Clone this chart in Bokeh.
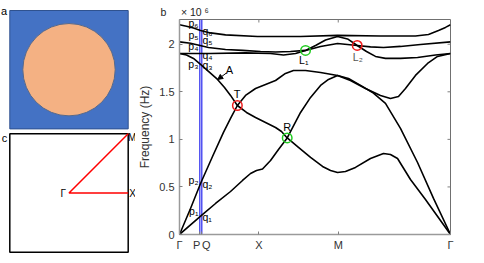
import math
from bokeh.plotting import figure
from bokeh.models import Range1d, FixedTicker, Label, Arrow, NormalHead, Title
from bokeh.layouts import row
from bokeh.embed import file_html
from bokeh.resources import INLINE

FONT = "Liberation Sans"
NB = "\u00a0"

# ---------------- data ----------------
# path coordinate: Γ=0, X=1, M=2, Γ=2+√2 ; frequency in units of 1e6 Hz
K_END = 2 + math.sqrt(2)
k_P = 0.256
k_Q = 0.281
x_ticks = [0, k_P, k_Q, 1, 2, K_END]
x_tick_labels = ["Γ", "P" + NB * 2, NB * 3 + "Q", "X", "M", "Γ"]
y_ticks = [0, 0.5, 1, 1.5, 2]
y_tick_labels = ["0", "0.5", "1", "1.5", "2"]
Y_MAX = 2.26

b1_k = [0, 0.277, 0.454, 0.643, 0.794, 0.895, 0.970, 1.046, 1.147, 1.247, 1.357, 1.525, 1.651, 1.777,
        1.877, 1.991, 2.129, 2.281, 2.432, 2.595, 2.784, 2.999, 3.200, K_END]
b1_f = [0, 0.200, 0.326, 0.452, 0.568, 0.641, 0.673, 0.689, 0.778, 0.894, 1.015, 1.283, 1.441, 1.567,
        1.630, 1.672, 1.640, 1.567, 1.493, 1.378, 1.115, 0.757, 0.379, 0]

b2_k = [0, 0.139, 0.265, 0.416, 0.554, 0.643, 0.729, 0.832, 0.958, 1.084, 1.210, 1.335, 1.436, 1.588,
        1.777, 1.991, 2.154, 2.343, 2.532, 2.658, 2.759, 2.847, 2.973, 3.125, 3.251, K_END]
b2_f = [0, 0.273, 0.536, 0.820, 1.073, 1.220, 1.356, 1.462, 1.535, 1.577, 1.619, 1.693, 1.724, 1.724,
        1.703, 1.672, 1.619, 1.535, 1.462, 1.430, 1.451, 1.535, 1.672, 1.798, 1.872, 1.903]

b3_k = [0, 0.088, 0.176, 0.265, 0.365, 0.479, 0.567, 0.643, 0.729, 0.844, 0.958, 1.084, 1.210, 1.285,
        1.357, 1.499, 1.651, 1.802, 1.903, 1.991, 2.091, 2.217, 2.406, 2.570, 2.658, 2.747, 2.910,
        3.099, K_END]
b3_f = [1.903, 1.887, 1.851, 1.788, 1.714, 1.630, 1.546, 1.462, 1.356, 1.283, 1.230, 1.178, 1.125, 1.083,
        1.015, 0.915, 0.810, 0.715, 0.673, 0.652, 0.662, 0.705, 0.799, 0.852, 0.841, 0.799, 0.578,
        0.368, 0]

b4_k = [0, 0.391, 0.832, 1.147, 1.310, 1.462, 1.588, 1.714, 1.840, 1.991, 2.117, 2.239, 2.356, 2.469,
        2.595, 2.784, 2.999, 3.226, K_END]
b4_f = [1.903, 1.903, 1.909, 1.903, 1.887, 1.903, 1.935, 1.987, 2.045, 2.082, 2.056, 1.987, 1.924, 1.872,
        1.851, 1.851, 1.861, 1.887, 1.903]

b5_k = [0, 0.139, 0.365, 0.580, 0.794, 1.021, 1.210, 1.398, 1.588, 1.777, 1.991, 2.239, 2.406, 2.570,
        2.784, 3.036, K_END]
b5_f = [2.025, 2.010, 1.966, 1.945, 1.935, 1.924, 1.919, 1.924, 1.935, 1.977, 2.008, 1.987, 1.972, 1.966,
        1.977, 1.998, 2.025]

b6_k = [0, 0.088, 0.176, 0.265, 0.391, 0.580, 0.983, 1.525, 1.991, 2.532, 2.973, 3.137, 3.263, 3.351, K_END]
b6_f = [2.205, 2.190, 2.171, 2.145, 2.119, 2.098, 2.082, 2.082, 2.093, 2.087, 2.087, 2.103, 2.145, 2.177, 2.205]

bands_k = [b1_k, b2_k, b3_k, b4_k, b5_k, b6_k]
bands_f = [b1_f, b2_f, b3_f, b4_f, b5_f, b6_f]

# special points (band crossings)
pt_k = [0.729, 1.357, 1.588, 2.239]
pt_f = [1.356, 1.015, 1.935, 1.987]
pt_colors = ["#ee1c1c", "#22cc22", "#22cc22", "#ee1c1c"]

p_names = ["p₁", "p₂", "p₃", "p₄", "p₅", "p₆"]
p_f = [0.252, 0.578, 1.788, 1.977, 2.093, 2.219]
q_names = ["q₁", "q₂", "q₃", "q₄", "q₅", "q₆"]
q_f = [0.189, 0.526, 1.777, 1.882, 2.040, 2.135]

# unit cell / Brillouin zone (panels a, c), in units of the lattice constant
r_incl = 0.39
bz_G = (0.0, 0.0)
bz_X = (0.5, 0.0)
bz_M = (0.5, 0.5)

# ---------------- main band-structure figure ----------------
LW = 135
p = figure(width=484 - LW, height=263, x_range=Range1d(0, K_END), y_range=Range1d(0, Y_MAX),
           output_backend="svg", toolbar_location=None,
           min_border_left=44, min_border_right=34, min_border_top=19, min_border_bottom=29)
p.frame_align = False
p.xgrid.visible = False
p.ygrid.visible = False
p.outline_line_color = "#707070"
p.outline_line_width = 1
p.background_fill_color = "white"
p.border_fill_color = "white"

xa = p.xaxis[0]
xa.ticker = FixedTicker(ticks=x_ticks)
xa.major_label_overrides = {t: s for t, s in zip(x_ticks, x_tick_labels)}
ya = p.yaxis[0]
ya.ticker = FixedTicker(ticks=y_ticks)
ya.major_label_overrides = {t: s for t, s in zip(y_ticks, y_tick_labels)}
for ax in (xa, ya):
    ax.axis_line_color = "#9a9a9a"
    ax.axis_line_width = 1.5
    ax.major_tick_in = 3
    ax.major_tick_out = 0
    ax.major_tick_line_color = "#808080"
    ax.minor_tick_line_color = None
    ax.major_label_text_font = FONT
    ax.major_label_text_font_size = "11px"
    ax.major_label_text_color = "#333333"
xa.major_label_standoff = 4
ya.major_label_standoff = 5
ya.axis_label = "Frequency (Hz)"
ya.axis_label_text_font = FONT
ya.axis_label_text_font_style = "normal"
ya.axis_label_text_font_size = "12px"
ya.axis_label_text_color = "#333333"
ya.axis_label_standoff = 4

# panel letter and the ×10^6 multiplier above the frame
p.add_layout(Title(text="b" + NB * 5 + "× 10" + NB + "⁶", align="left", offset=-19, standoff=4,
                   text_font=FONT, text_font_size="10.5px", text_font_style="normal",
                   text_color="#222222"), "above")

# inward ticks on the top and right edges of the box
TL_X = 3 / 79.4
TL_Y = 3 / 95.1
p.segment(x0=x_ticks[3:5], y0=[Y_MAX] * 2, x1=x_ticks[3:5], y1=[Y_MAX - TL_Y] * 2,
          line_color="#808080", line_width=1)
p.segment(x0=[K_END] * 4, y0=y_ticks[1:], x1=[K_END - TL_X] * 4, y1=y_ticks[1:],
          line_color="#808080", line_width=1)

# P, Q vertical lines
p.segment(x0=[k_P, k_Q], y0=[0, 0], x1=[k_P, k_Q], y1=[Y_MAX, Y_MAX],
          line_color="#2727ee", line_width=1.2)

for bk, bf in zip(bands_k, bands_f):
    p.line(bk, bf, line_color="black", line_width=1.6, line_join="round")

p.scatter(pt_k, pt_f, marker="circle", size=9.5, fill_color=None,
          line_color=pt_colors, line_width=1.5)


def lab(fig, x, y, text, size="11px", align="center", base="middle", color="black"):
    fig.add_layout(Label(x=x, y=y, text=text, text_font=FONT, text_font_size=size,
                         text_align=align, text_baseline=base, text_color=color))


for name, f in zip(p_names, p_f):
    lab(p, 0.239, f, name, size="10.5px", align="right")
for name, f in zip(q_names, q_f):
    lab(p, 0.290, f, name, size="10.5px", align="left")

lab(p, 0.727, 1.477, "T")
lab(p, 1.357, 1.128, "R")
lab(p, 1.566, 1.830, "L₁", size="10.5px")
lab(p, 2.246, 1.864, "L₂", size="10.5px", color="#555555")
lab(p, 0.630, 1.724, "A")
p.add_layout(Arrow(end=NormalHead(size=5, fill_color="black", line_color="black", line_width=1),
                   x_start=0.589, y_start=1.696, x_end=0.482, y_end=1.630,
                   line_color="black", line_width=1))

# ---------------- left figure: panels a and c ----------------
S = 118.4  # px per lattice constant
x0 = -0.5 - 9.3 / S
y1 = 0.5 + 10 / S
q = figure(width=LW, height=263, x_range=Range1d(x0, x0 + LW / S), y_range=Range1d(y1 - 263 / S, y1),
           output_backend="svg", toolbar_location=None, min_border=0,
           x_axis_location=None, y_axis_location=None)
q.frame_align = False
q.xgrid.visible = False
q.ygrid.visible = False
q.outline_line_color = None
q.background_fill_color = "white"
q.border_fill_color = "white"

# panel a: unit cell with circular inclusion
q.rect(x=0, y=0, width=1, height=1, fill_color="#4472C4", line_color="#2F528F", line_width=1)
q.circle(x=0, y=0, radius=r_incl, fill_color="#F4B183", line_color="#56698c", line_width=1)

# panel c: Brillouin zone and irreducible path
cy = -(1 + 4.9 / S)
q.rect(x=0, y=cy, width=1, height=1, fill_color=None, line_color="black", line_width=1.5)
q.line([bz_M[0], bz_G[0], bz_X[0]], [cy + bz_M[1], cy + bz_G[1], cy + bz_X[1]],
       line_color="#ff0000", line_width=1.5)
lab(q, bz_G[0] - 3 / S, cy + bz_G[1], "Γ", size="10px", align="right")
lab(q, bz_X[0] + 1.0 / S, cy + bz_X[1], "X", size="10px", align="left")
lab(q, bz_M[0] - 0.3 / S, cy + bz_M[1] - 4 / S, "M", size="10px", align="left")

lab(q, x0 + 0.5 / S, 0.5, "a", size="11px", align="left", base="alphabetic")
lab(q, x0 + 1.2 / S, y1 - 137 / S, "c", size="11px", align="left", base="alphabetic")

layout = row(q, p)
open("out.html", "w").write(file_html(layout, INLINE))
